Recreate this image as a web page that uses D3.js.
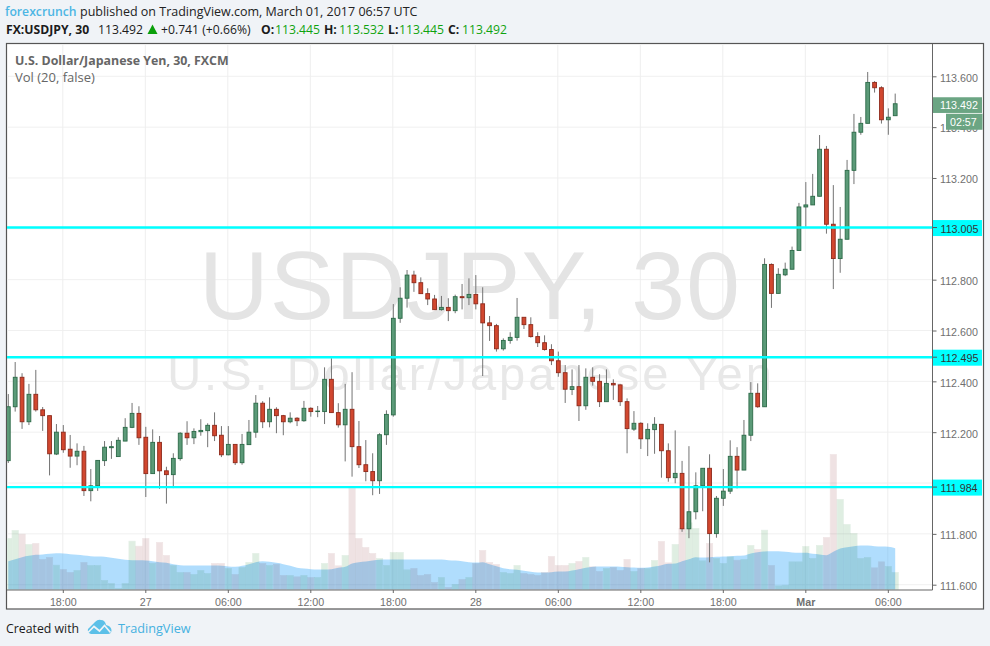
<!DOCTYPE html>
<html>
<head>
<meta charset="utf-8">
<script src="https://cdn.jsdelivr.net/npm/d3@7/dist/d3.min.js"></script>
<style>
html,body{margin:0;padding:0;background:#f0f3f7;}
svg{display:block;}
text{font-family:"Liberation Sans",Arial,sans-serif;}
.hd{font-family:"Open Sans",sans-serif;}
</style>
</head>
<body>
<svg id="c" width="990" height="646"></svg>
<script>
const opens=[112.088,112.300,112.416,112.241,112.349,112.288,112.265,112.114,112.200,112.133,
112.106,112.125,111.970,111.989,112.088,112.139,112.104,112.165,112.219,112.274,
112.180,112.037,112.160,112.048,112.033,112.096,112.196,112.178,112.202,112.206,
112.227,112.188,112.111,112.152,112.080,112.151,112.200,112.314,112.241,112.290,
112.265,112.241,112.255,112.245,112.294,112.281,112.281,112.408,112.277,112.229,
112.290,112.143,112.072,112.045,112.009,112.190,112.268,112.648,112.727,112.818,
112.788,112.745,112.724,112.682,112.691,112.678,112.733,112.729,112.742,112.705,
112.630,112.619,112.528,112.561,112.573,112.652,112.623,112.576,112.552,112.525,
112.481,112.434,112.368,112.379,112.304,112.416,112.400,112.320,112.392,112.386,
112.320,112.212,112.235,112.174,112.210,112.231,112.127,112.021,112.038,111.820,
111.887,111.989,112.058,111.801,111.940,111.968,112.105,112.051,112.188,112.353,
112.300,112.860,112.746,112.819,112.841,112.915,113.086,113.094,113.128,113.313,
113.018,112.883,112.959,113.230,113.380,113.415,113.576,113.555,113.429,113.445];
const highs=[112.350,112.476,112.432,112.390,112.445,112.299,112.265,112.232,112.228,112.189,
112.156,112.146,112.055,112.089,112.165,112.165,112.180,112.255,112.315,112.302,
112.221,112.211,112.185,112.064,112.117,112.200,112.243,112.215,112.251,112.235,
112.278,112.224,112.224,112.152,112.193,112.248,112.346,112.322,112.337,112.298,
112.268,112.278,112.259,112.323,112.298,112.303,112.455,112.491,112.314,112.390,
112.436,112.244,112.169,112.117,112.196,112.286,112.704,112.770,112.838,112.835,
112.809,112.766,112.740,112.736,112.727,112.741,112.783,112.805,112.818,112.770,
112.657,112.626,112.569,112.593,112.728,112.652,112.652,112.593,112.581,112.546,
112.517,112.464,112.447,112.464,112.451,112.455,112.428,112.447,112.408,112.388,
112.333,112.283,112.239,112.235,112.259,112.231,112.156,112.207,112.087,112.145,
112.042,112.058,112.113,111.949,112.055,112.168,112.141,112.248,112.397,112.392,
112.884,112.864,112.845,112.867,112.930,113.102,113.184,113.216,113.369,113.326,
113.172,113.086,113.271,113.452,113.440,113.617,113.581,113.561,113.474,113.532];
const lows=[112.079,112.281,112.213,112.228,112.281,112.205,112.030,112.110,112.119,112.060,
112.070,111.949,111.928,111.969,112.067,112.095,112.104,112.165,112.216,112.150,
111.945,112.037,111.977,111.919,111.980,112.088,112.150,112.153,112.186,112.141,
112.165,112.102,112.109,112.071,112.072,112.151,112.178,112.216,112.219,112.196,
112.188,112.235,112.224,112.241,112.261,112.259,112.232,112.277,112.218,112.085,
112.025,112.059,112.007,111.952,111.957,112.150,112.261,112.630,112.690,112.752,
112.745,112.700,112.682,112.678,112.637,112.668,112.683,112.700,112.683,112.421,
112.559,112.517,112.521,112.548,112.560,112.606,112.572,112.535,112.521,112.464,
112.418,112.315,112.346,112.244,112.288,112.383,112.299,112.320,112.327,112.303,
112.117,112.205,112.134,112.106,112.115,112.021,112.005,111.999,111.808,111.783,
111.857,111.889,111.688,111.785,111.910,111.957,111.979,112.051,112.165,112.296,
112.300,112.689,112.746,112.814,112.841,112.915,113.008,113.094,113.128,112.981,
112.763,112.827,112.959,113.176,113.370,113.415,113.536,113.414,113.370,113.445];
const closes=[112.300,112.416,112.241,112.349,112.288,112.265,112.115,112.200,112.131,112.106,
112.125,111.970,111.989,112.089,112.141,112.143,112.168,112.219,112.274,112.178,
112.037,112.160,112.048,112.033,112.097,112.196,112.178,112.203,112.207,112.227,
112.186,112.111,112.152,112.080,112.152,112.200,112.314,112.241,112.290,112.265,
112.241,112.255,112.245,112.294,112.281,112.283,112.408,112.277,112.229,112.290,
112.143,112.072,112.045,112.009,112.190,112.270,112.648,112.727,112.818,112.788,
112.745,112.724,112.682,112.691,112.678,112.733,112.729,112.742,112.705,112.630,
112.619,112.528,112.561,112.573,112.652,112.623,112.576,112.552,112.525,112.481,
112.434,112.369,112.379,112.304,112.416,112.400,112.320,112.392,112.386,112.320,
112.214,112.235,112.174,112.211,112.231,112.127,112.021,112.038,111.820,111.887,
111.989,112.058,111.801,111.940,111.968,112.105,112.051,112.188,112.353,112.300,
112.860,112.746,112.821,112.841,112.915,113.086,113.094,113.128,113.313,113.018,
112.883,112.959,113.230,113.380,113.415,113.576,113.555,113.429,113.439,113.492];
const volumes=[153,177,166,135,138,90,96,73,60,51,57,81,72,72,27,18,3,18,145,130,
153,79,141,102,72,51,51,45,57,48,78,78,63,45,66,81,108,78,72,76,42,42,38,42,36,36,
78,108,71,102,304,153,126,108,93,72,111,111,59,63,42,45,21,36,6,15,30,36,78,117,
81,75,51,48,72,48,45,42,51,99,72,72,78,84,96,68,54,63,66,57,90,54,63,63,87,144,
80,135,183,200,183,86,138,93,78,98,88,90,132,120,178,72,11,13,83,83,129,93,132,156,
405,270,195,168,93,96,65,83,69,51];
const volumeMA=[85,91,97,101,104,105,107,109,108,106,104,102,100,99,98,95,92,89,88,88,
87,85,82,80,76,73,72,72,72,72,72,71,69,68,71,76,82,85,83,80,76,71,65,63,61,60,60,
61,65,68,78,82,84,87,89,90,90,90,90,90,90,90,90,90,88,87,85,82,81,82,76,70,64,61,
59,56,53,51,51,52,54,54,57,61,65,68,69,69,69,68,67,66,65,66,69,73,77,78,85,91,97,
96,97,98,99,100,101,102,108,112,114,115,115,113,111,110,110,107,105,103,113,123,127,130,132,132,130,129,128,124];
const priceTicks=[111.6,111.8,112.0,112.2,112.4,112.6,112.8,113.0,113.2,113.4,113.6];
const priceLabelTicks=[111.6,111.8,112.2,112.4,112.6,112.8,113.2,113.4,113.6];
const levels=[113.005,112.495,111.984];
const timeTickIndex=[8,20,32,44,56,68,80,92,104,116,128];
const timeTickLabels=["18:00","27","06:00","12:00","18:00","28","06:00","12:00","18:00","Mar","06:00"];
const lastPrice=113.492, countdown="02:57";

const L=7,R=932.5,T=44,B=590;
const svg=d3.select("#c");
svg.append("defs").append("clipPath").attr("id","pane").append("rect").attr("x",L).attr("y",T).attr("width",R-L).attr("height",B-T);
svg.append("rect").attr("x",6.5).attr("y",43.5).attr("width",977).attr("height",565.5).attr("fill","#fff").attr("stroke","#555").attr("stroke-width",1.2);

const x=d3.scaleLinear().domain([0,129]).range([8.3,895.2]);
const y=d3.scaleLinear().domain([111.6,113.6]).range([584.7,76.3]);
const v=d3.scaleLinear().domain([0,300]).range([589.5,489.5]);
const n=d3.range(closes.length), w=x(1)-x(0);
const UP="#5b9a78",UPE="#2c6a48",DN="#d1472f",DNE="#8f2a1b";
const isUp=i=>closes[i]>=opens[i];

const pane=svg.append("g").attr("clip-path","url(#pane)");
pane.append("g").selectAll("line").data(priceTicks).join("line")
 .attr("x1",L).attr("x2",R).attr("y1",d=>y(d)).attr("y2",d=>y(d)).attr("stroke","#f0f0f0").attr("stroke-width",1);
pane.append("g").selectAll("line").data(timeTickIndex).join("line")
 .attr("x1",d=>x(d)-0.5).attr("x2",d=>x(d)-0.5).attr("y1",T).attr("y2",B).attr("stroke","#eeeeee").attr("stroke-width",1);

pane.append("text").attr("x",470).attr("y",319).attr("text-anchor","middle").attr("font-size",96.5).attr("letter-spacing",1.3).attr("fill","#e4e4e4").text("USDJPY, 30");
pane.append("text").attr("x",471).attr("y",389.5).attr("text-anchor","middle").attr("font-size",47).attr("letter-spacing",3).attr("fill","#e8e8e8").text("U.S. Dollar/Japanese Yen");

pane.append("path").datum(n)
 .attr("d",d3.area().x(i=>x(i)).y0(v(0)).y1(i=>v(volumeMA[i])).curve(d3.curveMonotoneX))
 .attr("fill","rgba(80,180,250,.45)");

pane.append("g").selectAll("rect").data(n).join("rect")
 .attr("x",i=>x(i)-w/2+0.3).attr("width",w-0.6)
 .attr("y",i=>v(volumes[i])).attr("height",i=>v(0)-v(volumes[i]))
 .attr("fill",i=>isUp(i)?"#dfeee2":"#efe2e3")
 .attr("stroke",i=>isUp(i)?"#e3efe6":"#f0e6e6").attr("stroke-width",0.7)
 .style("mix-blend-mode","multiply");

const cg=pane.append("g");
cg.selectAll("line").data(n).join("line")
 .attr("x1",i=>x(i)).attr("x2",i=>x(i)).attr("y1",i=>y(highs[i])).attr("y2",i=>y(lows[i]))
 .attr("stroke","#737373").attr("stroke-width",1);
cg.selectAll("rect").data(n).join("rect")
 .attr("x",i=>x(i)-1.9).attr("width",3.8)
 .attr("y",i=>y(Math.max(opens[i],closes[i])))
 .attr("height",i=>Math.max(0.3,Math.abs(y(opens[i])-y(closes[i]))))
 .attr("fill",i=>isUp(i)?UP:DN).attr("stroke",i=>isUp(i)?UPE:DNE).attr("stroke-width",0.9);

pane.append("g").selectAll("line").data(levels).join("line")
 .attr("x1",L).attr("x2",R).attr("y1",d=>y(d)).attr("y2",d=>y(d)).attr("stroke","#0ff").attr("stroke-width",2.4);

// axes
svg.append("line").attr("x1",R).attr("x2",R).attr("y1",T).attr("y2",B).attr("stroke","#666").attr("stroke-width",1);
svg.append("line").attr("x1",L).attr("x2",R).attr("y1",B).attr("y2",B).attr("stroke","#666").attr("stroke-width",1);

const yAxis=svg.append("g").attr("transform",`translate(${R},0)`)
 .call(d3.axisRight(y).tickValues(priceLabelTicks).tickFormat(d3.format(".3f")).tickSize(4).tickPadding(3.5));
yAxis.select(".domain").remove();
yAxis.selectAll("line").attr("stroke","#666");
yAxis.selectAll("text").attr("font-size",10.7).attr("fill","#707070").attr("font-family","Liberation Sans").attr("dy","0.45em");

const xAxis=svg.append("g").attr("transform",`translate(-0.5,${B})`)
 .call(d3.axisBottom(x).tickValues(timeTickIndex).tickFormat((d,i)=>timeTickLabels[i]).tickSize(3).tickPadding(5));
xAxis.select(".domain").remove();
xAxis.selectAll("line").attr("stroke","#666");
xAxis.selectAll("text").attr("font-size",10.7).attr("fill","#707070").attr("font-family","Liberation Sans")
 .attr("font-weight",d=>d===116?"bold":"normal");

// level tags
const tags=svg.append("g").selectAll("g").data(levels).join("g").attr("transform",d=>`translate(${R+0.5},${y(d)})`);
tags.append("rect").attr("x",0).attr("y",-7.5).attr("width",49).attr("height",16).attr("fill","#00ffff");
tags.append("line").attr("x1",0).attr("x2",4).attr("stroke","#555");
tags.append("text").attr("x",7.5).attr("y",5).attr("font-size",10.7).attr("fill","#333").text(d=>d3.format(".3f")(d));

// last price tags
const lp=svg.append("g");
lp.append("rect").attr("x",R+0.5).attr("y",y(lastPrice)-6.5).attr("width",49).attr("height",15.7).attr("fill","#6ba583");
lp.append("text").attr("x",R+7.5).attr("y",y(lastPrice)+5.3).attr("font-size",10.7).attr("fill","#fff").text(d3.format(".3f")(lastPrice));
lp.append("rect").attr("x",946).attr("y",y(lastPrice)+10).attr("width",36.5).attr("height",16).attr("fill","#6ba583");
lp.append("text").attr("x",950).attr("y",y(lastPrice)+22).attr("font-size",10.7).attr("fill","#fff").text(countdown);

// legend in pane
svg.append("text").attr("class","hd").attr("x",15).attr("y",65).attr("font-size",12.4).attr("font-weight","700").attr("fill","#666").text("U.S. Dollar/Japanese Yen, 30, FXCM");
svg.append("text").attr("class","hd").attr("x",15).attr("y",82).attr("font-size",13).attr("fill","#666").text("Vol (20, false)");

// header
const H1=svg.append("text").attr("class","hd").attr("y",16).attr("font-size",12.5).attr("fill","#222");
H1.append("tspan").attr("x",5).attr("fill","#4db6e4").attr("font-weight","600").attr("font-size",12.2).text("forexcrunch");
H1.append("tspan").attr("x",80).text("published on TradingView.com, March 01, 2017 06:57 UTC");
const hdr=[[6,"FX:USDJPY, 30",700,"#1b1b1b"],[98,"113.492",400,"#1b1b1b"],[161,"+0.741 (+0.66%)",400,"#1b1b1b"],
[261,"O:",700,"#1b1b1b"],[275,"113.445",400,"#0fa30f"],[324,"H:",700,"#1b1b1b"],[339,"113.532",400,"#0fa30f"],
[388,"L:",700,"#1b1b1b"],[399,"113.445",400,"#0fa30f"],[448,"C:",700,"#1b1b1b"],[462,"113.492",400,"#0fa30f"]];
svg.append("g").selectAll("text").data(hdr).join("text").attr("class","hd").attr("x",d=>d[0]).attr("y",34).attr("font-size",12.2)
 .attr("font-weight",d=>d[2]).attr("fill",d=>d[3]).text(d=>d[1]);
svg.append("path").attr("d","M147.5 34 L152.5 24.5 L157.5 34 Z").attr("fill","#0a9f0a");

// footer
svg.append("text").attr("class","hd").attr("x",6).attr("y",633).attr("font-size",12.3).attr("fill","#1b1b1b").text("Created with");
svg.append("path").attr("d","M91 634 Q87 633 88 629 L95 622 Q98 619 101 620 Q105 620 106 625 Q111 626 111.5 630 Q111.5 634 108 634 Z").attr("fill","#5cc0e8");
svg.append("polyline").attr("points","88,632.5 94,626.5 99.5,631 104.5,625.5 110.5,632.5").attr("fill","none").attr("stroke","#f0f3f7").attr("stroke-width",1.7);
svg.append("text").attr("class","hd").attr("x",118).attr("y",633).attr("font-size",12.7).attr("fill","#45b1e0").text("TradingView");
</script>
</body>
</html>
